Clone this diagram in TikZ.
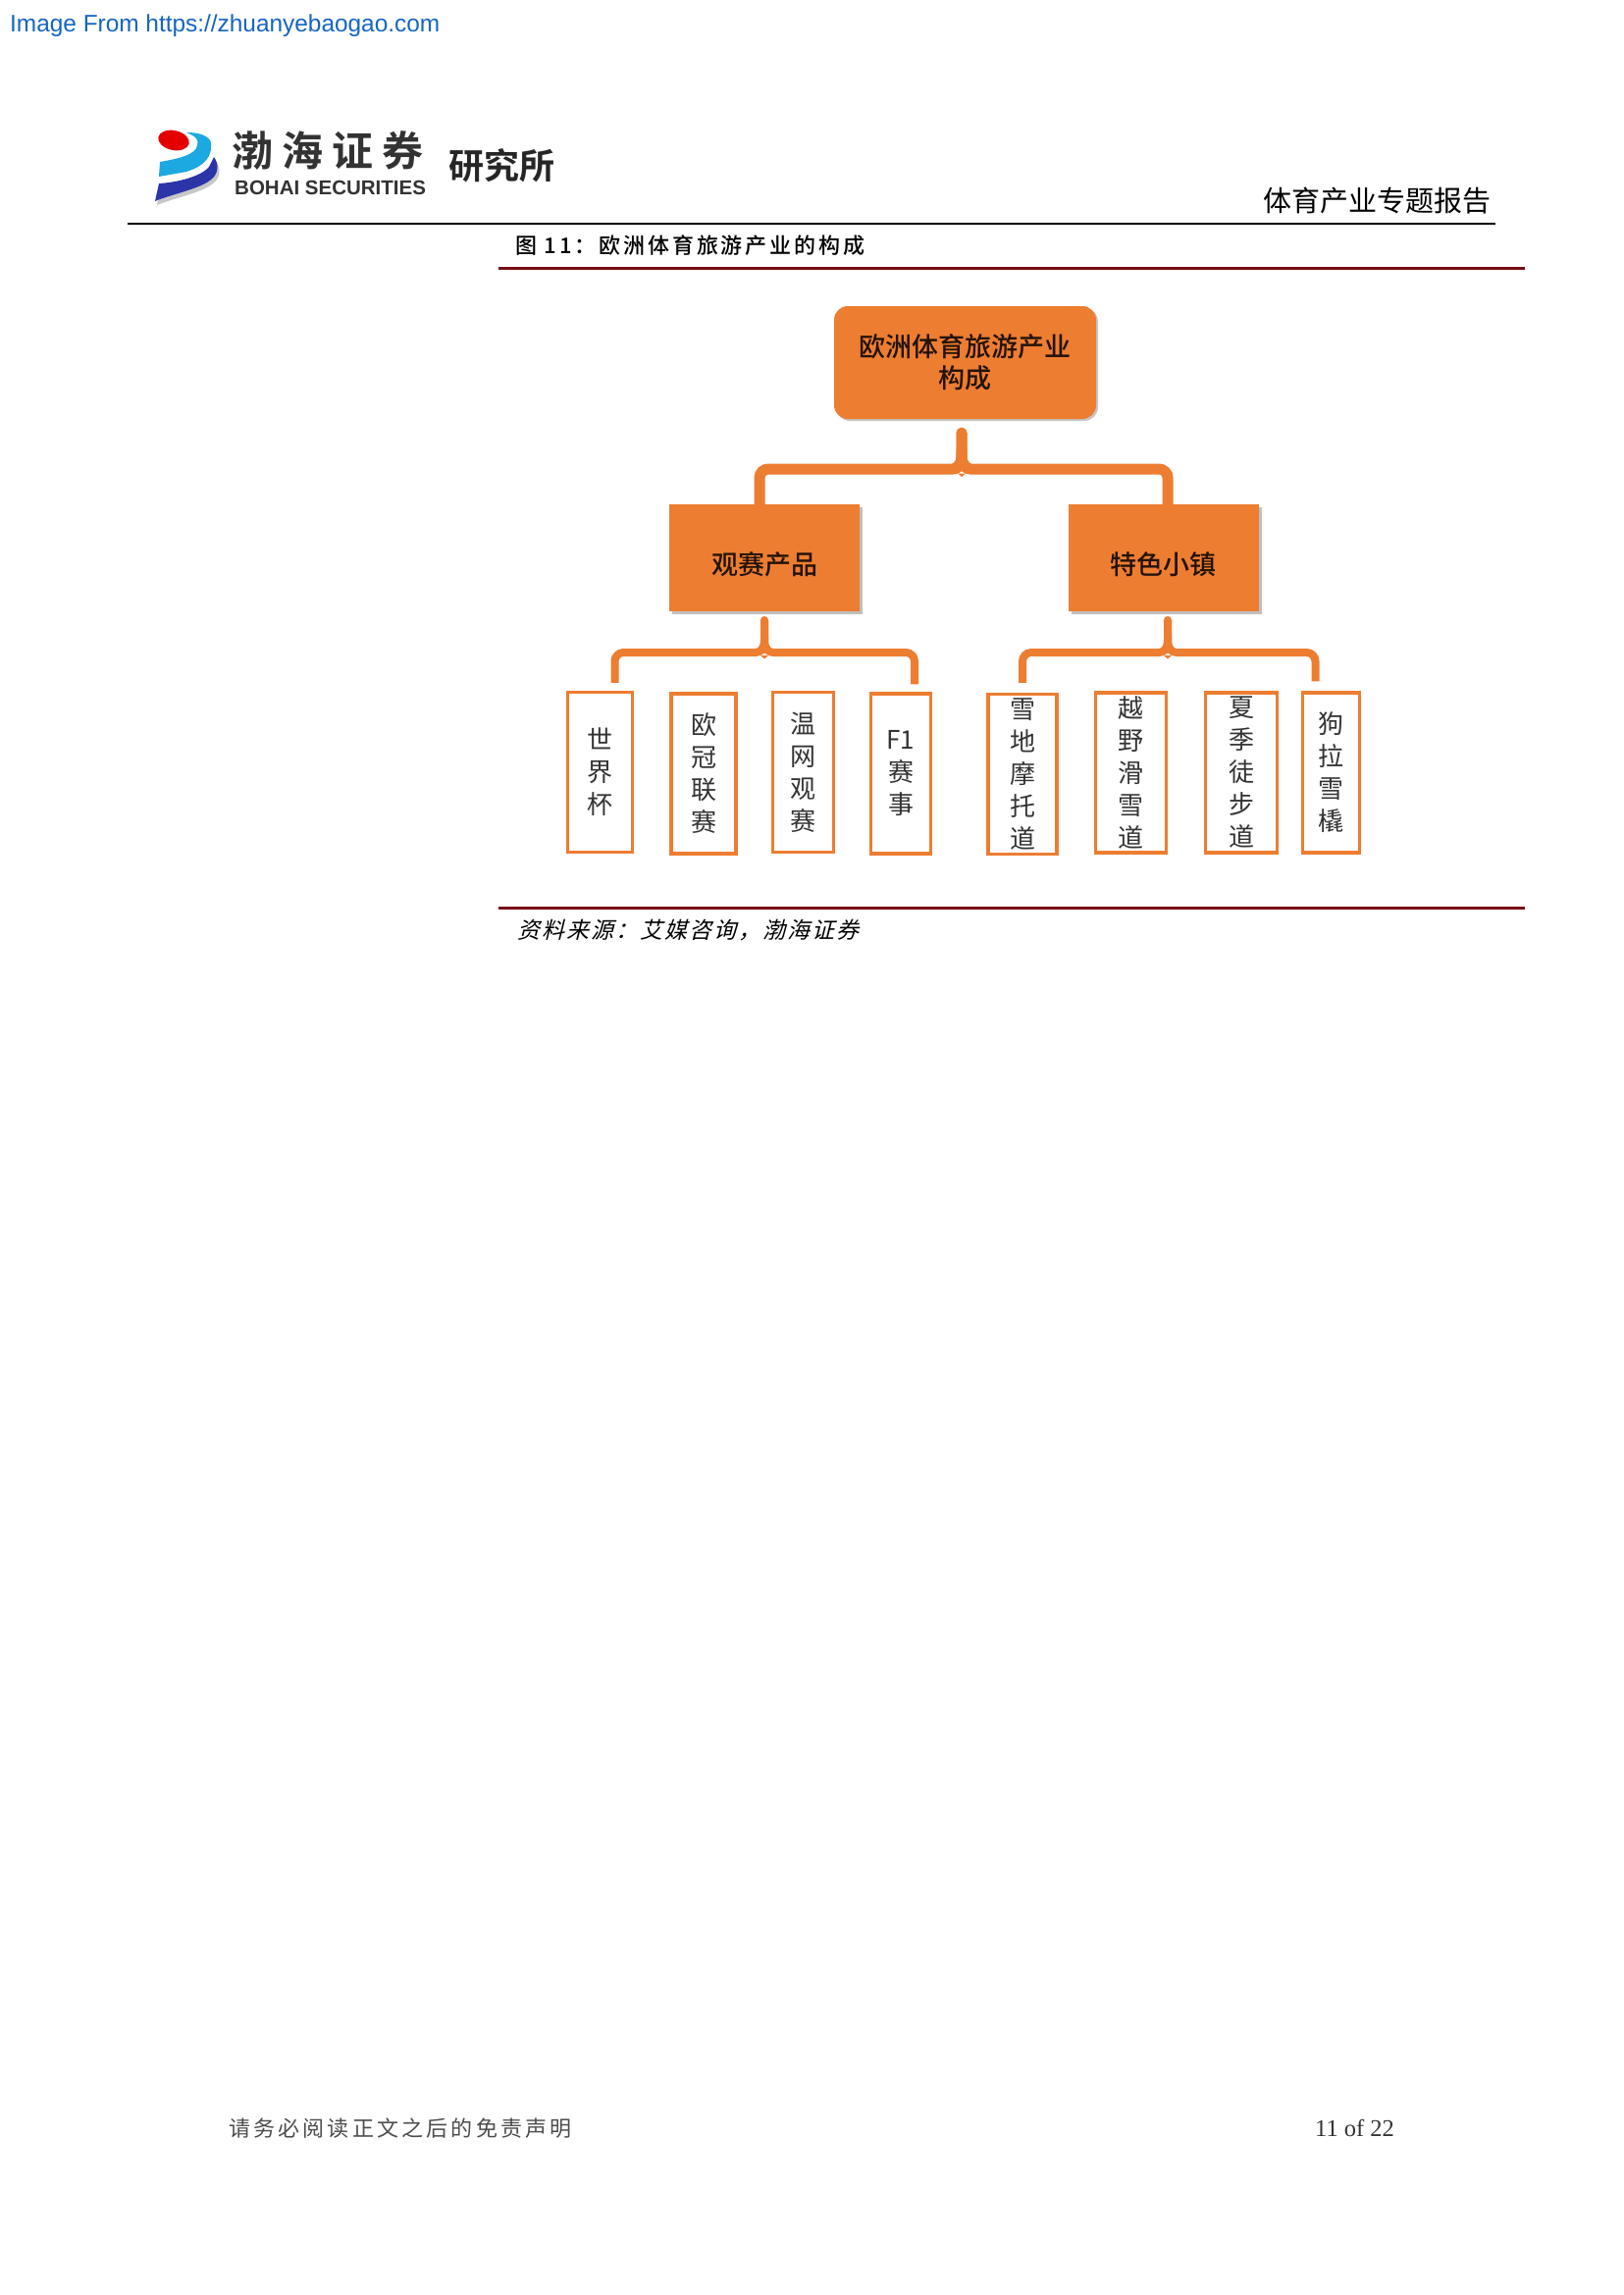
\documentclass[tikz,border=0pt]{standalone}
\usepackage{fontspec}
\usepackage{xcolor}
\usetikzlibrary{shadows}
\setmainfont{Liberation Serif}
\newfontfamily\cjk{Noto Sans CJK SC}
\newfontfamily\cjkmedium{Noto Sans CJK SC Medium}
\newfontfamily\cjkcaption[LetterSpace=13]{Noto Sans CJK SC Medium}
\newfontfamily\cjknotice[LetterSpace=14.5]{Noto Sans CJK SC}
\newfontfamily\cjkslant[FakeSlant=0.25,LetterSpace=8.7]{Noto Sans CJK SC}
\newfontfamily\cjklogo[LetterSpace=22]{Noto Sans CJK SC Bold}
\newfontfamily\cjkbold{Noto Sans CJK SC Bold}
\newfontfamily\latin{Liberation Sans}
\definecolor{boxorange}{HTML}{ED7D31}
\definecolor{rulered}{HTML}{7A0C16}
\definecolor{linkblue}{HTML}{1565C0}
\definecolor{logocyan}{HTML}{1CA8E0}
\definecolor{logoblue}{HTML}{2B35A8}
\tikzstyle{root box}=[fill=boxorange, rounded corners=14pt, minimum width=267pt, minimum height=115pt, inner sep=0pt, align=center, font=\cjkmedium\fontsize{27}{32}\selectfont, text=black!85!boxorange, drop shadow={shadow xshift=2pt, shadow yshift=-2pt, opacity=0.45}]
\tikzstyle{mid box}=[fill=boxorange, minimum width=194pt, minimum height=109pt, inner sep=0pt, font=\cjkmedium\fontsize{27}{32}\selectfont, text=black!85!boxorange, text height=37pt, text depth=3pt, drop shadow={shadow xshift=3pt, shadow yshift=-3pt, opacity=0.5}]
\tikzstyle{leaf box}=[fill=white, draw=boxorange, line width=3.5pt, minimum height=163pt, inner sep=0pt, align=center, font=\cjk\fontsize{26}{33}\selectfont, text=black!80]
\tikzstyle{upper link}=[draw=boxorange, line width=11pt, rounded corners=9pt]
\tikzstyle{lower link}=[draw=boxorange, line width=8pt, rounded corners=9pt]
\pgfdeclarelayer{edgelayer}
\pgfdeclarelayer{nodelayer}
\pgfsetlayers{edgelayer,nodelayer,main}
\begin{document}
\begin{tikzpicture}[x=1pt, y=-1pt]
	\useasboundingbox (0, 0) rectangle (1654, 2339);
	% page
	\node [anchor=west, inner sep=0pt, text=linkblue, font=\latin\fontsize{24.4}{30}\selectfont] (link) at (10, 26) {Image From https://zhuanyebaogao.com};
	\node [anchor=east, inner sep=0pt, font=\cjk\fontsize{29}{34}\selectfont] (report) at (1520, 205) {体育产业专题报告};
	\node [anchor=west, inner sep=0pt, font=\cjkcaption\fontsize{22}{26}\selectfont] (caption) at (525, 250) {图 11：欧洲体育旅游产业的构成};
	\node [anchor=west, inner sep=0pt, font=\cjkslant\fontsize{23}{26}\selectfont] (source) at (527, 948) {资料来源：艾媒咨询，渤海证券};
	\node [anchor=west, inner sep=0pt, text=black!70, font=\cjknotice\fontsize{22}{26}\selectfont] (notice) at (233, 2169) {请务必阅读正文之后的免责声明};
	\node [anchor=west, inner sep=0pt, text=black!80, font=\fontsize{24.5}{28}\selectfont] (page) at (1340, 2169) {11 of 22};
	\draw [line width=2.5pt] (130, 228) -- (1524, 228);
	\draw [rulered, line width=3pt] (508, 273) -- (1554, 273);
	\draw [rulered, line width=2.5pt] (508, 925.5) -- (1554, 925.5);
	% logo
	\fill [black!22, shift={(2, 4)}] (218, 160) .. controls (224, 168) and (222, 178) .. (215, 183) .. controls (205, 192) and (175, 198) .. (158, 205) -- (162, 187) .. controls (180, 186) and (205, 180) .. (213, 170) -- cycle;
	\fill [logoblue] (218, 160) .. controls (224, 168) and (222, 178) .. (215, 183) .. controls (205, 192) and (175, 198) .. (158, 205) -- (162, 187) .. controls (180, 186) and (205, 180) .. (213, 170) -- cycle;
	\fill [logocyan] (190, 135) .. controls (208, 135) and (217, 141) .. (215, 150) .. controls (215, 165) and (200, 172) .. (190, 175) -- (162, 180) -- (163, 165) .. controls (180, 162) and (200, 158) .. (201, 148) .. controls (203, 143) and (200, 139) .. (190, 135);
	\fill [red!90!black, rotate around={-12:(177, 143)}] (177, 143) ellipse [x radius=16, y radius=10];
	\node [anchor=west, inner sep=0pt, text=black!80, font=\cjklogo\fontsize{42}{46}\selectfont] (logoname) at (236, 154) {渤海证券};
	\node [anchor=west, inner sep=0pt, text=black!80, font=\latin\bfseries\fontsize{20.5}{24}\selectfont] (logolatin) at (239, 191) {BOHAI SECURITIES};
	\node [anchor=west, inner sep=0pt, text=black!85, font=\cjkbold\fontsize{36}{40}\selectfont] (institute) at (457, 169) {研究所};
	% chart
	\begin{pgfonlayer}{nodelayer}
		\node [style=root box] (0) at (983.5, 369.5) {欧洲体育旅游产业\\构成};
		\node [style=mid box] (1) at (779, 568.5) {观赛产品};
		\node [style=mid box] (2) at (1185.5, 568.5) {特色小镇};
		\node [style=leaf box, minimum width=66pt] (3) at (611.5, 787) {世\\界\\杯};
		\node [style=leaf box, minimum width=66pt] (4) at (717, 788.5) {欧\\冠\\联\\赛};
		\node [style=leaf box, minimum width=62pt] (5) at (818.5, 787) {温\\网\\观\\赛};
		\node [style=leaf box, minimum width=61pt] (6) at (918, 788.5) {F1\\赛\\事};
		\node [style=leaf box, minimum width=70pt] (7) at (1042, 789) {雪\\地\\摩\\托\\道};
		\node [style=leaf box, minimum width=72pt] (8) at (1152.5, 787.5) {越\\野\\滑\\雪\\道};
		\node [style=leaf box, minimum width=73pt] (9) at (1265, 787.5) {夏\\季\\徒\\步\\道};
		\node [style=leaf box, minimum width=58pt] (10) at (1356.5, 787.5) {狗\\拉\\雪\\橇};
	\end{pgfonlayer}
	\begin{pgfonlayer}{edgelayer}
		\draw [style=upper link, line cap=round] ([xshift=-3.5pt, yshift=-14pt]0.south) -- (980, 478) -| ([xshift=-5pt]1.north);
		\draw [style=upper link, line cap=round] ([xshift=-3.5pt, yshift=-14pt]0.south) -- (980, 478) -| ([xshift=4.5pt]2.north);
		\draw [style=lower link] ([yshift=-9pt]1.south) -- (779, 665) -| ([xshift=15pt, yshift=8pt]3.north);
		\draw [style=lower link] ([yshift=-9pt]1.south) -- (779, 665) -| ([xshift=14pt, yshift=8pt]6.north);
		\draw [style=lower link] ([xshift=4.5pt, yshift=-9pt]2.south) -- (1190, 665) -| ([yshift=10pt]7.north);
		\draw [style=lower link] ([xshift=4.5pt, yshift=-9pt]2.south) -- (1190, 665) -| ([xshift=-16pt, yshift=10pt]10.north);
		\foreach \jx/\jy/\jw in {779/665/4, 1190/665/4} {
			\fill [boxorange, shift={(\jx, \jy)}] (0, -33) circle [radius=\jw];
		}
		\foreach \jx/\jy/\jw in {980/478/5.5, 779/665/4, 1190/665/4} {
			\fill [boxorange, shift={(\jx, \jy)}] (-\jw, -\jw-14) .. controls (-\jw, -\jw-3) .. (-\jw-5, -\jw+1) -- (\jw+5, -\jw+1) .. controls (\jw, -\jw-3) .. (\jw, -\jw-14) -- cycle;
			\fill [boxorange, shift={(\jx, \jy)}] (-4, \jw-1) -- (0, \jw+2.5) -- (4, \jw-1) -- cycle;
		}
	\end{pgfonlayer}
\end{tikzpicture}
\end{document}
